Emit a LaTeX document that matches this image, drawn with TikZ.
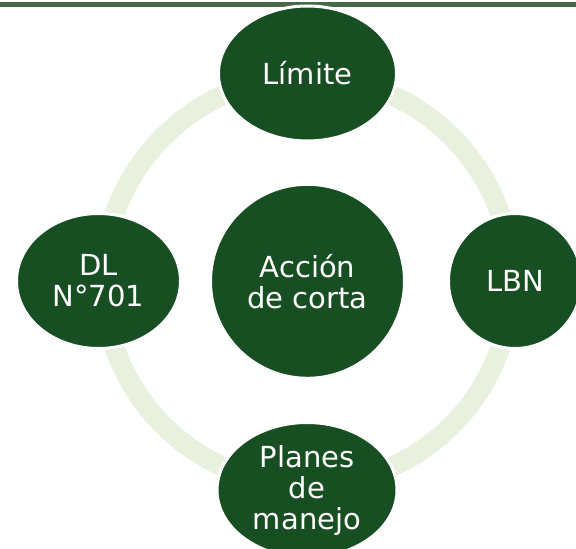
\documentclass[tikz,border=0pt]{standalone}
\usepackage{fontspec}
\setmainfont{DejaVu Sans}
\usetikzlibrary{shapes.geometric}
\definecolor{dkgreen}{RGB}{24,79,34}
\definecolor{ringgreen}{RGB}{233,240,222}
\definecolor{bargreen}{RGB}{70,106,72}
\begin{document}
\begin{tikzpicture}[x=1pt,y=-1pt,
  bubble/.style={ellipse, fill=dkgreen, draw=white, line width=3pt, inner sep=-20pt,
    text=white, align=center, font=\fontsize{29}{31}\selectfont}]
\useasboundingbox (0,0) rectangle (576,549);
\clip (0,0) rectangle (576,549);
\fill[bargreen] (0,1.5) rectangle (576,7);
\draw[ringgreen, line width=20pt] (307.5,281) circle [radius=204pt];
\node[bubble, minimum width=194pt, minimum height=194pt] (center) at (307.5,281.3) {Acción\\de corta};
\node[bubble, minimum width=178pt, minimum height=135pt] (top) at (307.5,73.5) {Límite};
\node[bubble, minimum width=164pt, minimum height=135pt] (left) at (98.5,281) {DL\\N°701};
\node[bubble, minimum width=133pt, minimum height=135pt] (right) at (515,281) {LBN};
\node[bubble, minimum width=180pt, minimum height=135pt] (bottom) at (307,490) {Planes\\de\\manejo};
\end{tikzpicture}
\end{document}
